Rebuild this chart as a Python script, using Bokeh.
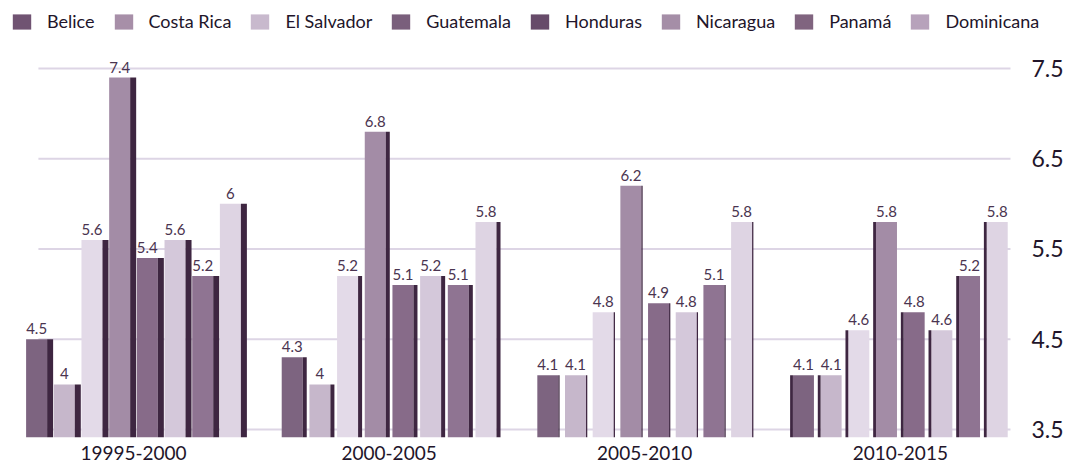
import numpy as np
from bokeh.plotting import figure
from bokeh.layouts import column
from bokeh.models import ColumnDataSource, Legend, LegendItem, FixedTicker, Range1d
from bokeh.core.properties import value
from bokeh.embed import file_html
from bokeh.resources import INLINE

# ---- data -------------------------------------------------------------
periods = ["19995-2000", "2000-2005", "2005-2010", "2010-2015"]
countries = ["Belice", "Costa Rica", "El Salvador", "Guatemala",
             "Honduras", "Nicaragua", "Panamá", "Dominicana"]

belice      = [4.5, 4.3, 4.1, 4.1]
costa_rica  = [4.0, 4.0, 4.1, 4.1]
el_salvador = [5.6, 5.2, 4.8, 4.6]
guatemala   = [7.4, 6.8, 6.2, 5.8]
honduras    = [5.4, 5.1, 4.9, 4.8]
nicaragua   = [5.6, 5.2, 4.8, 4.6]
panama      = [5.2, 5.1, 5.1, 5.2]
dominicana  = [6.0, 5.8, 5.8, 5.8]

y_ticks = [3.5, 4.5, 5.5, 6.5, 7.5]

series = [belice, costa_rica, el_salvador, guatemala,
          honduras, nicaragua, panama, dominicana]

# ---- styling ----------------------------------------------------------
bar_colors = ["#7d6480", "#c6b7cb", "#e3dae8", "#a38ca6",
              "#876b89", "#d4c8da", "#8f7492", "#ded4e3"]
legend_colors = ["#705372", "#a78fa8", "#c8b9cd", "#7a5f7c",
                 "#674b6a", "#a58ea7", "#80647f", "#b7a2bb"]
SIDE_COLOR = "#3e2641"
GRID_COLOR = "#ddd5e5"
TEXT_COLOR = "#22152a"
VALUE_COLOR = "#4a3450"
FONT = "Lato"

# bar geometry in x units (one unit per period)
PITCH = 0.1083
FRONT_W = 0.0822
DEPTH = [0.0235, 0.0157, 0.0050, -0.0110]   # side face width; sign picks the side
BASE = 3.4114
GRID_X = (-0.372, 3.431)

WIDTH = 1074
KEY_H = 40

# ---- key strip across the top ------------------------------------------
key = figure(width=WIDTH, height=KEY_H, x_range=Range1d(0, 1), y_range=Range1d(0, 1),
             x_axis_type=None, y_axis_type=None,
             output_backend="svg", toolbar_location=None,
             min_border=0, outline_line_color=None, frame_align=False,
             background_fill_color="white", border_fill_color="white")
key.grid.visible = False

items = []
for name, c in zip(countries, legend_colors):
    key_src = ColumnDataSource(dict(l=[np.nan], r=[np.nan], t=[np.nan], b=[np.nan]))
    r = key.quad(left="l", right="r", top="t", bottom="b", source=key_src,
                 fill_color=c, line_color=None)
    items.append(LegendItem(label=name, renderers=[r]))
legend = Legend(items=items, orientation="horizontal", location="top_left",
                margin=10, padding=0, spacing=17,
                glyph_width=23, glyph_height=19, label_standoff=14,
                label_text_font=FONT, label_text_font_size="18px",
                label_text_color=TEXT_COLOR,
                background_fill_alpha=0, border_line_alpha=0)
key.add_layout(legend)

# ---- bar chart ---------------------------------------------------------
p = figure(width=WIDTH, height=465 - KEY_H,
           x_range=Range1d(-0.4812, 3.478), y_range=Range1d(BASE, 7.8102),
           y_axis_location="right",
           output_backend="svg", toolbar_location=None,
           min_border_left=10, min_border_right=52,
           min_border_top=0, min_border_bottom=28,
           outline_line_color=None, frame_align=False,
           background_fill_color="white", border_fill_color="white")
p.grid.visible = False

# horizontal guide lines at the tick values
p.segment(x0=GRID_X[0], x1=GRID_X[1], y0=y_ticks, y1=y_ticks,
          line_color=GRID_COLOR, line_width=2)

groups = np.arange(len(periods), dtype=float)
n = len(series)
depth = np.array(DEPTH)
label_sources = []
for j, vals in enumerate(series):
    xc = groups + (j - (n - 1) / 2) * PITCH
    left_edge = xc - FRONT_W / 2
    right_edge = xc + FRONT_W / 2
    side_l = np.where(depth > 0, right_edge, left_edge + depth)
    side_r = np.where(depth > 0, right_edge + depth, left_edge)
    src = ColumnDataSource(dict(x=xc, top=vals, sl=side_l, sr=side_r,
                                label=[f"{v:g}" for v in vals]))
    p.vbar(x="x", top="top", bottom=BASE, width=FRONT_W, source=src,
           fill_color=bar_colors[j], line_color=None)
    p.quad(left="sl", right="sr", top="top", bottom=BASE, source=src,
           fill_color=SIDE_COLOR, line_color=None)
    label_sources.append(src)

for src in label_sources:
    p.text(x="x", y="top", text="label", source=src,
           text_align="center", text_baseline="bottom", y_offset=-5,
           text_font=value(FONT), text_font_size="15px",
           text_color=VALUE_COLOR)

# period names under the groups
p.xaxis.ticker = FixedTicker(ticks=list(range(len(periods))))
p.xaxis.major_label_overrides = {i: name for i, name in enumerate(periods)}
p.xaxis.axis_line_color = None
p.xaxis.major_tick_line_color = None
p.xaxis.minor_tick_line_color = None
p.xaxis.major_label_standoff = 2
p.xaxis.major_label_text_font = FONT
p.xaxis.major_label_text_font_size = "19px"
p.xaxis.major_label_text_color = TEXT_COLOR

# value scale on the right
p.yaxis.ticker = FixedTicker(ticks=y_ticks)
p.yaxis.axis_line_color = None
p.yaxis.major_tick_line_color = None
p.yaxis.minor_tick_line_color = None
p.yaxis.major_label_standoff = 3
p.yaxis.major_label_text_font = FONT
p.yaxis.major_label_text_font_size = "23px"
p.yaxis.major_label_text_color = TEXT_COLOR

layout = column(key, p, spacing=0)
open("out.html", "w").write(file_html(layout, INLINE))
